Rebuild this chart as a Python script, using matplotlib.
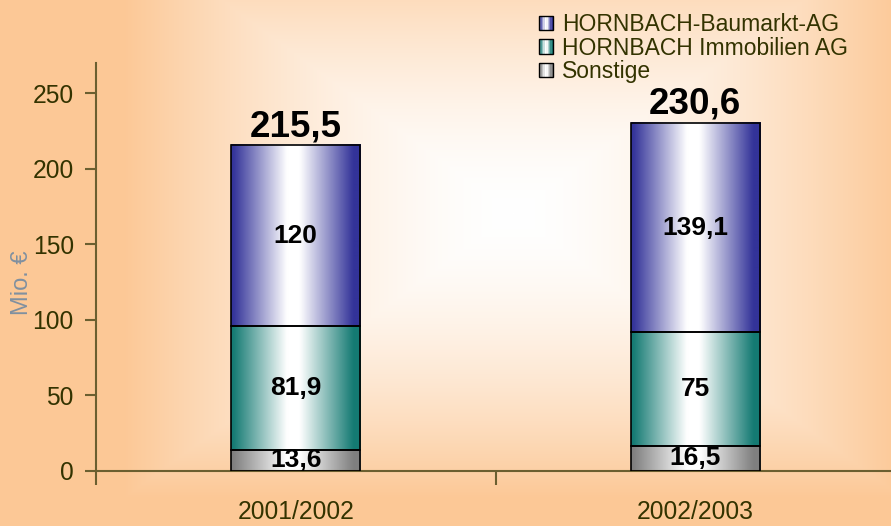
import numpy as np
import matplotlib
matplotlib.use("Agg")
import matplotlib.pyplot as plt
from matplotlib.patches import Rectangle
from matplotlib.legend_handler import HandlerBase

plt.rcParams['font.family'] = ['Liberation Sans', 'DejaVu Sans']

# data
years = ['2001/2002', '2002/2003']
series = ['HORNBACH-Baumarkt-AG', 'HORNBACH Immobilien AG', 'Sonstige']
baumarkt = [120, 139.1]
immobilien = [81.9, 75]
sonstige = [13.6, 16.5]
totals = [215.5, 230.6]

dark_cols = {'HORNBACH-Baumarkt-AG': (0.20, 0.20, 0.60),
             'HORNBACH Immobilien AG': (0.08, 0.48, 0.45),
             'Sonstige': (0.50, 0.50, 0.50)}
olive = '#333300'
axis_col = '#6b5f30'


def de(v):
    return f'{v:g}'.replace('.', ',')


def gradient_row(dark, n=64):
    u = np.linspace(0, 1, n)
    t = np.clip((np.abs(u - 0.48) - 0.05) / 0.42, 0, 1)
    dark = np.array(dark)
    return (1 - t)[:, None] * np.ones(3) + t[:, None] * dark


class GradHandler(HandlerBase):
    def __init__(self, dark):
        super().__init__()
        self.dark = dark

    def create_artists(self, legend, orig_handle, xdescent, ydescent,
                       width, height, fontsize, trans):
        cols = gradient_row(self.dark, 10)
        x0, y0 = -xdescent, -ydescent
        arts = []
        for i, c in enumerate(cols):
            arts.append(Rectangle((x0 + i * width / len(cols), y0), width / len(cols) + 0.2,
                                  height, facecolor=c, edgecolor='none', transform=trans))
        arts.append(Rectangle((x0, y0), width, height, facecolor='none',
                              edgecolor='black', lw=1, transform=trans))
        return arts


W, H = 891, 526
fig = plt.figure(figsize=(W / 100, H / 100), dpi=100)

# background box gradient
bg = fig.add_axes([0, 0, 1, 1], zorder=0)
yy, xx = np.mgrid[0:H, 0:W]
d = np.maximum(np.abs(xx - 513) / 390, np.abs(yy - 213) / 285)
d = np.clip(d, 0, 1) ** 1.6
orange = np.array([252, 200, 150]) / 255
img = (1 - d)[..., None] * np.ones(3) + d[..., None] * orange
bg.imshow(img, aspect='auto', extent=(0, 1, 0, 1))
bg.axis('off')

ax = fig.add_axes([96 / W, 55.5 / H, 799 / W, 407.8 / H], zorder=1)
ax.set_facecolor('none')

x = np.arange(len(years))
bw = 0.323
bottoms = np.zeros(len(years))
for name, vals in zip(series[::-1], [sonstige, immobilien, baumarkt]):
    row = gradient_row(dark_cols[name])[None, :, :]
    for xi, b, v in zip(x, bottoms, vals):
        ax.imshow(row, extent=(xi - bw / 2, xi + bw / 2, b, b + v),
                  aspect='auto', interpolation='bilinear', zorder=2)
        ax.text(xi, b + v / 2, de(v), ha='center', va='center',
                fontsize=19, fontweight='bold', color='black', zorder=4)
    ax.bar(x, vals, bw, bottom=bottoms, facecolor='none', edgecolor='black',
           linewidth=1.2, zorder=3)
    bottoms = bottoms + np.array(vals)

for xi, t in zip(x, totals):
    ax.text(xi, t + 6, de(t), ha='center', va='baseline', fontsize=26.5,
            fontweight='bold', color='black', zorder=4)

ax.set_xlim(-0.5, 1.5)
ax.set_ylim(0, 270.3)
ax.set_yticks([0, 50, 100, 150, 200, 250])
ax.set_xticks(x)
ax.set_xticklabels(years)
ax.set_xticks([-0.5, 0.5, 1.5], minor=True)
ax.tick_params(axis='x', which='major', length=0, pad=21, labelsize=17.7, labelcolor=olive)
ax.tick_params(axis='x', which='minor', length=10, width=1.5, color=axis_col, direction='out')
ax.tick_params(axis='y', length=8, width=1.5, color=axis_col, pad=8, labelsize=17.7,
               labelcolor=olive)
for s in ['top', 'right']:
    ax.spines[s].set_visible(False)
for s in ['left', 'bottom']:
    ax.spines[s].set_color(axis_col)
    ax.spines[s].set_linewidth(1.5)

fig.text(22 / W, 1 - 283 / H, 'Mio. €', rotation=90, ha='center', va='center',
         fontsize=17, color='#8090a0')

handles = [Rectangle((0, 0), 1, 1) for _ in series]
leg = ax.legend(handles, series, loc='upper left', bbox_to_anchor=(523 / W, 1 + 3 / H),
                bbox_transform=fig.transFigure, frameon=False, fontsize=16.5,
                handler_map={h: GradHandler(dark_cols[n]) for h, n in zip(handles, series)},
                handlelength=0.62, handleheight=0.6, handletextpad=0.4,
                labelspacing=0.02, borderpad=0.2)
for t in leg.get_texts():
    t.set_color(olive)

fig.savefig('out.png', dpi=100)
